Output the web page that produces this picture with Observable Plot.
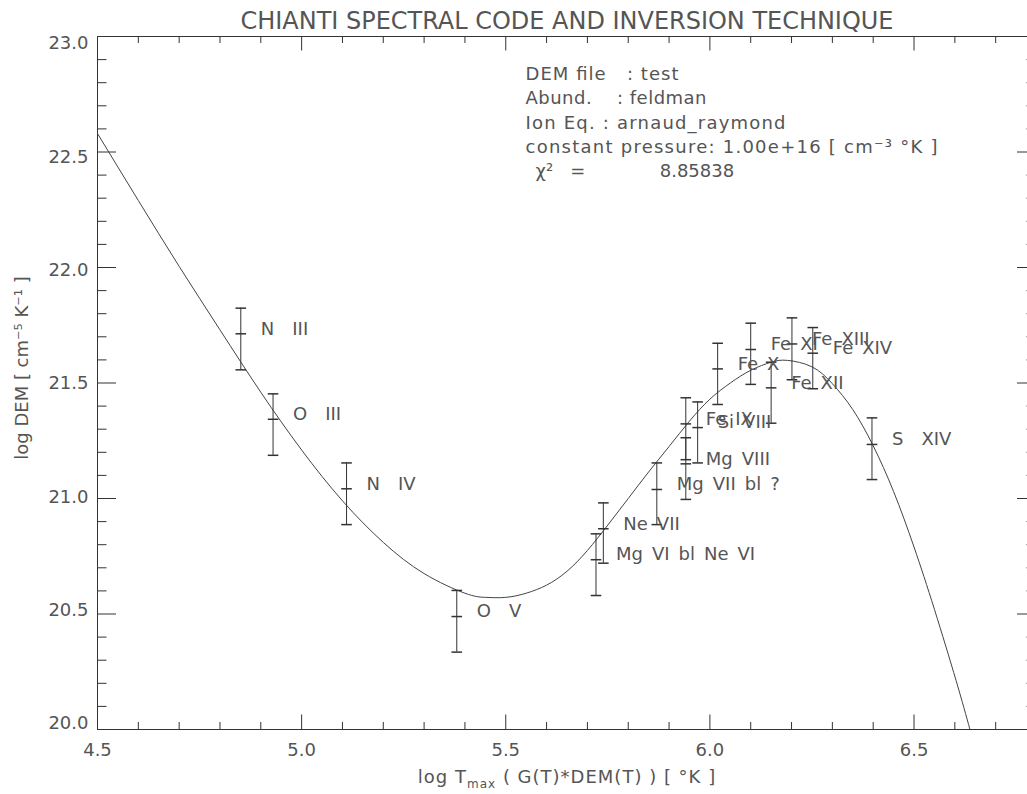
<!DOCTYPE html>
<html><head><meta charset="utf-8">
<script src="https://cdn.jsdelivr.net/npm/d3@7"></script>
<script src="https://cdn.jsdelivr.net/npm/@observablehq/plot@0.6"></script>
<style>body{margin:0;background:#fff;overflow:hidden} #chart svg{display:block}</style>
</head><body><div id="chart"></div>
<script>
// ---- data ----
const titleText = "CHIANTI SPECTRAL CODE AND INVERSION TECHNIQUE";
const xTitleParts = ["log T", "max", " ( G(T)*DEM(T) ) [ °K ]"];
const yTitle = "log DEM [ cm⁻⁵ K⁻¹ ]";
const legendLines = [
  "DEM file   : test",
  "Abund.    : feldman",
  "Ion Eq. : arnaud_raymond",
  "constant pressure: 1.00e+16 [ cm⁻³ °K ]",
  "χ²   =             8.85838"
];
const legendWidths = [153, 181, 260, 412, null];
const xMajor = [4.5, 5.0, 5.5, 6.0, 6.5];
const xMinor = [4.6,4.7,4.8,4.9,5.1,5.2,5.3,5.4,5.6,5.7,5.8,5.9,6.1,6.2,6.3,6.4,6.6,6.7];
const yMajor = [20.0, 20.5, 21.0, 21.5, 22.0, 22.5, 23.0];
const yMinor = [20.1,20.2,20.3,20.4,20.6,20.7,20.8,20.9,21.1,21.2,21.3,21.4,21.6,21.7,21.8,21.9,22.1,22.2,22.3,22.4,22.6,22.7,22.8,22.9];

const ionLabels = ["N  III","O  III","N  IV","O  V","Mg VI bl Ne VI","Ne VII","Mg VII bl ?","Fe IX","Mg VIII","Si VIII","Fe X","Fe XI","Fe XII","Fe XIII","Fe XIV","S  XIV"];
const ionLogT   = [4.851, 4.930, 5.110, 5.380, 5.721, 5.739, 5.870, 5.941, 5.941, 5.970, 6.019, 6.100, 6.150, 6.201, 6.252, 6.397];
const ionLogDEM = [21.713, 21.343, 21.042, 20.489, 20.735, 20.869, 21.039, 21.323, 21.150, 21.307, 21.561, 21.645, 21.479, 21.669, 21.629, 21.234];
const ionHigh   = [21.824, 21.453, 21.154, 20.602, 20.847, 20.981, 21.154, 21.436, 21.263, 21.418, 21.672, 21.759, 21.590, 21.782, 21.740, 21.349];
const ionLow    = [21.557, 21.187, 20.887, 20.335, 20.580, 20.720, 20.887, 21.168, 20.996, 21.154, 21.407, 21.494, 21.326, 21.514, 21.475, 21.082];

const curveLogT   = [4.50, 4.60, 4.70, 4.80, 4.90, 5.00, 5.10, 5.20, 5.30, 5.40, 5.45, 5.50, 5.55, 5.60, 5.65, 5.70, 5.75, 5.80, 5.85, 5.90, 5.95, 6.00, 6.05, 6.10, 6.15, 6.19, 6.25, 6.30, 6.35, 6.40, 6.45, 6.50, 6.55, 6.603, 6.637];
const curveLogDEM = [22.58, 22.29, 22.005, 21.73, 21.46, 21.21, 20.99, 20.81, 20.675, 20.59, 20.572, 20.572, 20.59, 20.625, 20.685, 20.775, 20.885, 21.00, 21.115, 21.225, 21.335, 21.43, 21.50, 21.555, 21.59, 21.598, 21.57, 21.497, 21.385, 21.228, 21.03, 20.79, 20.52, 20.212, 20.00];

// ---- layout ----
const FONT = "'DejaVu Sans', 'Liberation Sans', sans-serif";
const W = 1027, H = 794, mL = 97, mR = -9, mT = 36, mB = 65;
const plotW = W - mL - mR, plotH = H - mT - mB;
const ink = "#333", txt = "#555";
const nb = s => s.replace(/ /g, "\u00A0");
const en = s => s.replace(/ /g, "\u2002");
const fmt = d3.format(".1f");

const ions = ionLabels.map((label, i) => ({label, x: ionLogT[i], c: ionLogDEM[i], lo: ionLow[i], hi: ionHigh[i]}));
const curve = curveLogT.map((x, i) => ({x, y: curveLogDEM[i]}));
const hbar = {draw(ctx, size) { const r = Math.sqrt(size / Math.PI); ctx.moveTo(-r, 0); ctx.lineTo(r, 0); }};

const legendMarks = legendLines.map((line, i) =>
  Plot.text([line], {text: d => nb(d), frameAnchor: "top-left", textAnchor: "start", lineAnchor: "top",
    dx: i === 4 ? 438 : 428, dy: 30.8 + i * 24.3, fill: txt, fontSize: 18}));

// y tick labels drift slightly toward the plot interior at the ends (as in the original)
const yLabelMarks = yMajor.map((v, i) =>
  Plot.text([v], {x: 4.5, y: d => d, text: d => fmt(d), textAnchor: "end", lineAnchor: "middle",
    dx: -9, dy: -6 + i * 2.2, fill: txt, fontSize: 18}));

const chart = Plot.plot({
  width: W, height: H,
  marginLeft: mL, marginRight: mR, marginTop: mT, marginBottom: mB,
  x: {domain: [4.5, 6.8]},
  y: {domain: [20, 23]},
  style: {fontFamily: FONT, fontSize: "18px", background: "#fff", color: ink, overflow: "visible"},
  marks: [
    Plot.frame({stroke: ink}),
    Plot.ruleX(xMinor, {stroke: ink, insetTop: plotH - 7}),
    Plot.ruleX(xMinor, {stroke: ink, insetBottom: plotH - 7}),
    Plot.ruleX(xMajor, {stroke: ink, insetTop: plotH - 14.5}),
    Plot.ruleX(xMajor, {stroke: ink, insetBottom: plotH - 14.5}),
    Plot.ruleY(yMinor, {stroke: ink, insetRight: plotW - 9.5}),
    Plot.ruleY(yMinor, {stroke: ink, insetLeft: plotW - 9.5}),
    Plot.ruleY(yMajor, {stroke: ink, insetRight: plotW - 19}),
    Plot.ruleY(yMajor, {stroke: ink, insetLeft: plotW - 19}),
    Plot.axisX({ticks: xMajor, tickSize: 0, tickPadding: 14, tickFormat: fmt, label: null, fill: txt, fontSize: 18}),
    Plot.axisY({ticks: [], tickSize: 0, label: null}),
    ...yLabelMarks,
    Plot.line(curve, {x: "x", y: "y", curve: "natural", stroke: "#444", strokeWidth: 1, clip: true}),
    Plot.ruleX(ions, {x: "x", y1: "lo", y2: "hi", stroke: ink}),
    Plot.dot(ions, {x: "x", y: "lo", symbol: hbar, r: 5.3, stroke: ink, fill: "none"}),
    Plot.dot(ions, {x: "x", y: "hi", symbol: hbar, r: 5.3, stroke: ink, fill: "none"}),
    Plot.dot(ions, {x: "x", y: "c", symbol: hbar, r: 5.3, stroke: ink, fill: "none"}),
    Plot.text(ions, {x: "x", y: "c", text: d => en(d.label), textAnchor: "start", lineAnchor: "middle", dx: 20, dy: -5, fill: txt, fontSize: 18}),
    Plot.text([titleText], {text: d => d, frameAnchor: "top", lineAnchor: "bottom", dy: -8, fontSize: 25, fill: txt}),
    ...legendMarks,
    Plot.text([xTitleParts.join("")], {text: d => d, frameAnchor: "bottom", lineAnchor: "bottom", dy: 53, fill: txt, fontSize: 18}),
    Plot.text([yTitle], {text: d => nb(d), frameAnchor: "left", textAnchor: "middle", rotate: -90, lineAnchor: "middle", dx: -75, dy: -15, fill: txt, fontSize: 18})
  ]
});

// rich text touches: subscript in x title, fitted widths
const sel = d3.select(chart);
const byText = s => sel.selectAll("text").filter(function () { return this.textContent === s; });
byText(titleText).attr("textLength", 653).attr("lengthAdjust", "spacingAndGlyphs");
legendLines.forEach((line, i) => {
  if (legendWidths[i]) byText(nb(line)).attr("textLength", legendWidths[i]).attr("lengthAdjust", "spacing");
});
const xt = byText(xTitleParts.join(""));
xt.text(null).style("letter-spacing", "1px");
xt.append("tspan").text(nb(xTitleParts[0]));
xt.append("tspan").attr("dy", 5).style("font-size", "12px").text(xTitleParts[1]);
xt.append("tspan").attr("dy", -5).text(nb(xTitleParts[2]));

document.getElementById("chart").append(chart);
</script>
</body></html>
